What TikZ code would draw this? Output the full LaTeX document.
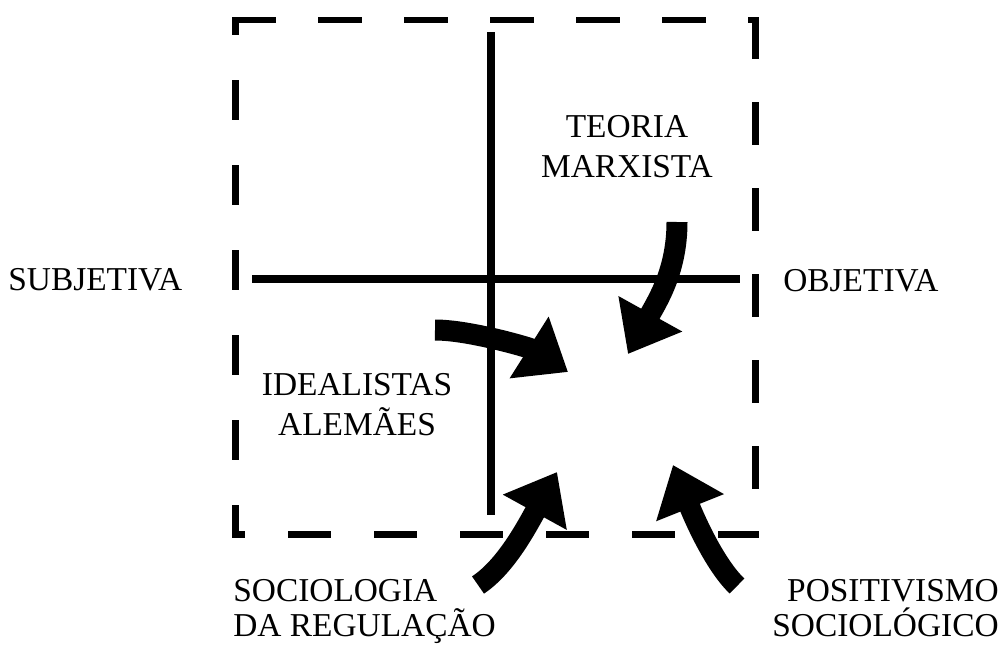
\documentclass[tikz,border=0pt]{standalone}
\usepackage{fontspec}
\setmainfont{Liberation Serif}
\usetikzlibrary{arrows.meta}
\begin{document}
\begin{tikzpicture}[x=0.02cm,y=-0.02cm]
	\tikzstyle{rotulo}=[inner sep=0pt,font=\fontsize{19}{22.8}\selectfont]
	\tikzstyle{rotulobaixo}=[inner sep=0pt,font=\fontsize{19}{19.9}\selectfont]
	\tikzstyle{eixo}=[line width=0.16cm]
	\tikzstyle{borda}=[line width=0.14cm,line cap=rect]
	\tikzstyle{seta}=[line width=0.42cm,-{Triangle[length=0.92cm,width=1.4cm]}]
	\useasboundingbox (0,0) rectangle (1007,649);
	% moldura tracejada
	\coordinate (tl) at (235.5,20);
	\coordinate (tr) at (755.5,20);
	\coordinate (br) at (755.5,534);
	\coordinate (bl) at (235.5,534);
	\draw[borda,dash pattern=on 0.74cm off 0.98cm] (tl) -- (tr);
	\draw[borda,dash pattern=on 0.66cm off 1.04cm,dash phase=0.43cm] (tl) -- (bl);
	\draw[borda,dash pattern=on 0.72cm off 1cm] (tr) -- (br);
	\draw[borda,dash pattern=on 0.72cm off 1cm,dash phase=0.6cm] (bl) -- (br);
	% eixos
	\coordinate (eixotopo) at (491,32);
	\coordinate (eixobase) at (491,515);
	\coordinate (eixoesq) at (252,279);
	\coordinate (eixodir) at (740,279);
	\draw[eixo] (eixotopo) -- (eixobase);
	\draw[eixo] (eixoesq) -- (eixodir);
	% rotulos
	\node[rotulo,anchor=base west] (subjetiva) at (8,290) {SUBJETIVA};
	\node[rotulo,anchor=base west] (objetiva) at (783,291) {OBJETIVA};
	\node[rotulo,anchor=north,align=center] (marxista) at (627,115) {TEORIA\\MARXISTA};
	\node[rotulo,anchor=north,align=center] (idealistas) at (357,373) {IDEALISTAS\\ALEMÃES};
	\node[rotulobaixo,anchor=north west,align=left] (regulacao) at (233,579) {SOCIOLOGIA\\DA REGULAÇÃO};
	\node[rotulobaixo,anchor=north east,align=right] (positivismo) at (999,579) {POSITIVISMO\\SOCIOLÓGICO};
	% setas
	\coordinate (marxcauda) at (677,222);
	\coordinate (marxponta) at (628,354);
	\coordinate (idcauda) at (435,330);
	\coordinate (idponta) at (568,372);
	\coordinate (regcauda) at (478,585);
	\coordinate (regponta) at (557,472);
	\coordinate (poscauda) at (737,586);
	\coordinate (posponta) at (673,465);
	\draw[seta] (marxcauda) .. controls (677,270) and (658,300) .. (marxponta);
	\draw[seta] (idcauda) .. controls (470,330) and (530,348) .. (idponta);
	\draw[seta] (regcauda) .. controls (505,567) and (525,530) .. (regponta);
	\draw[seta] (poscauda) .. controls (715,565) and (695,520) .. (posponta);
\end{tikzpicture}
\end{document}
